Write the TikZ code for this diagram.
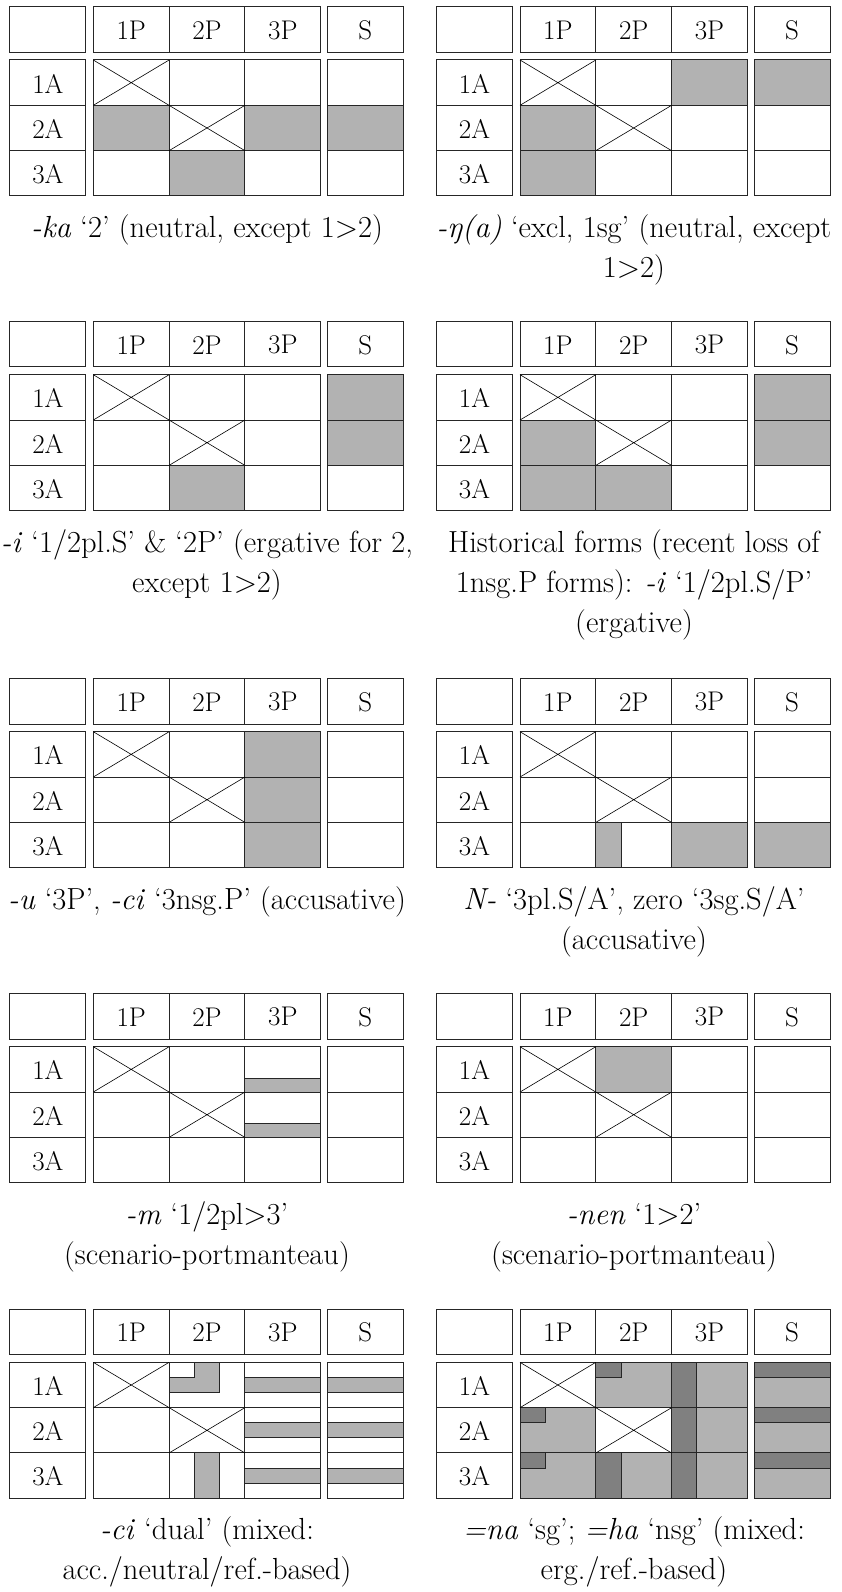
\documentclass[tikz,border=0pt]{standalone}
\usepackage{fontspec}
\tikzset{
  gl/.style={draw=black!85, line width=1pt},
  xl/.style={draw=black, line width=0.6pt},
  lt/.style={fill=black!30},
  dk/.style={fill=black!50},
  lab/.style={font=\fontsize{27pt}{33pt}\selectfont, inner sep=0pt},
  captxt/.style={font=\fontsize{30.5pt}{36pt}\selectfont, inner sep=0pt, anchor=base},
  panelsc/.style={x=75.8pt, y=-45.33pt},
}
\newcommand\drawgrid[1]{%
  \draw[gl] (-1.1,-1.176) rectangle (-0.1,-0.17);
  \draw[gl] (0,-1.176) rectangle (3,-0.17);
  \draw[gl] (1,-1.176) -- (1,-0.17) (2,-1.176) -- (2,-0.17);
  \draw[gl] (3.087,-1.176) rectangle (4.09,-0.17);
  \draw[gl] (-1.1,0) rectangle (-0.1,3) (-1.1,1) -- (-0.1,1) (-1.1,2) -- (-0.1,2);
  \draw[gl] (0,0) rectangle (3,3) (1,0) -- (1,3) (2,0) -- (2,3) (0,1) -- (3,1) (0,2) -- (3,2);
  \draw[gl] (3.087,0) rectangle (4.09,3) (3.087,1) -- (4.09,1) (3.087,2) -- (4.09,2);
  \draw[xl] (0,0) -- (1,1) (0,1) -- (1,0) (1,1) -- (2,2) (1,2) -- (2,1);
  \node[lab] (#1c1) at (0.5,-0.66) {1P};
  \node[lab] (#1c2) at (1.5,-0.66) {2P};
  \node[lab] (#1c3) at (2.5,-0.66) {3P};
  \node[lab] (#1c4) at (3.588,-0.66) {S};
  \node[lab] (#1r1) at (-0.6,0.52) {1A};
  \node[lab] (#1r2) at (-0.6,1.52) {2A};
  \node[lab] (#1r3) at (-0.6,2.52) {3A};
}
\begin{document}
\begin{tikzpicture}[x=1pt, y=-1pt]
\useasboundingbox (0,0) rectangle (842,1592);
\fill[white] (0,0) rectangle (842,1592);

% ---------- Row 1 ----------
\begin{scope}[shift={(93.3,60)}, panelsc]
  \fill[lt] (0,1) rectangle (1,2) (2,1) rectangle (3,2) (3.087,1) rectangle (4.09,2) (1,2) rectangle (2,3);
  \drawgrid{pa}
\end{scope}
\node[captxt] (capa1) at (207,237.5) {\textit{-ka} ‘2’ (neutral, except 1>2)};

\begin{scope}[shift={(520,60)}, panelsc]
  \fill[lt] (2,0) rectangle (3,1) (3.087,0) rectangle (4.09,1) (0,1) rectangle (1,3);
  \drawgrid{pb}
\end{scope}
\node[captxt] (capb1) at (634,237.5) {\textit{-ŋ(a)} ‘excl, 1sg’ (neutral, except};
\node[captxt] (capb2) at (634,277.5) {1>2)};

% ---------- Row 2 ----------
\begin{scope}[shift={(93.3,374.7)}, panelsc]
  \fill[lt] (3.087,0) rectangle (4.09,2) (1,2) rectangle (2,3);
  \drawgrid{pc}
\end{scope}
\node[captxt] (capc1) at (207,552.2) {\textit{-i} ‘1/2pl.S’ \& ‘2P’ (ergative for 2,};
\node[captxt] (capc2) at (207,592.2) {except 1>2)};

\begin{scope}[shift={(520,374.7)}, panelsc]
  \fill[lt] (3.087,0) rectangle (4.09,2) (0,1) rectangle (1,3) (1,2) rectangle (2,3);
  \drawgrid{pd}
\end{scope}
\node[captxt] (capd1) at (634,552.2) {Historical forms (recent loss of};
\node[captxt] (capd2) at (634,592.2) {1nsg.P forms): \textit{-i} ‘1/2pl.S/P’};
\node[captxt] (capd3) at (634,632.2) {(ergative)};

% ---------- Row 3 ----------
\begin{scope}[shift={(93.3,731.7)}, panelsc]
  \fill[lt] (2,0) rectangle (3,3);
  \drawgrid{pe}
\end{scope}
\node[captxt] (cape1) at (207,909.2) {\textit{-u} ‘3P’, \textit{-ci} ‘3nsg.P’ (accusative)};

\begin{scope}[shift={(520,731.7)}, panelsc]
  \fill[lt] (2,2) rectangle (3,3) (3.087,2) rectangle (4.09,3);
  \filldraw[lt, gl] (1,2) rectangle (1.333,3);
  \drawgrid{pf}
\end{scope}
\node[captxt] (capf1) at (634,909.2) {\textit{N-} ‘3pl.S/A’, zero ‘3sg.S/A’};
\node[captxt] (capf2) at (634,949.2) {(accusative)};

% ---------- Row 4 ----------
\begin{scope}[shift={(93.3,1046.7)}, panelsc]
  \filldraw[lt, gl] (2,0.7) rectangle (3,1);
  \filldraw[lt, gl] (2,1.7) rectangle (3,2);
  \drawgrid{pg}
\end{scope}
\node[captxt] (capg1) at (207,1224.2) {\textit{-m} ‘1/2pl>3’};
\node[captxt] (capg2) at (207,1264.2) {(scenario-portmanteau)};

\begin{scope}[shift={(520,1046.7)}, panelsc]
  \fill[lt] (1,0) rectangle (2,1);
  \drawgrid{ph}
\end{scope}
\node[captxt] (caph1) at (634,1224.2) {\textit{-nen} ‘1>2’};
\node[captxt] (caph2) at (634,1264.2) {(scenario-portmanteau)};

% ---------- Row 5 ----------
\begin{scope}[shift={(93.3,1362.3)}, panelsc]
  \filldraw[lt, gl] (1,0.333) -- (1.333,0.333) -- (1.333,0) -- (1.667,0) -- (1.667,0.667) -- (1,0.667) -- cycle;
  \filldraw[lt, gl] (1.333,2) rectangle (1.667,3);
  \foreach \r in {0,1,2} {
    \filldraw[lt, gl] (2,\r+0.333) rectangle (3,\r+0.667);
    \filldraw[lt, gl] (3.087,\r+0.333) rectangle (4.09,\r+0.667);
  }
  \drawgrid{pi}
\end{scope}
\node[captxt] (capi1) at (207,1539.8) {\textit{-ci} ‘dual’ (mixed:};
\node[captxt] (capi2) at (207,1579.8) {acc./neutral/ref.-based)};

\begin{scope}[shift={(520,1362.3)}, panelsc]
  \fill[lt] (1,0) rectangle (3,1) (3.087,0) rectangle (4.09,3) (0,1) rectangle (1,3) (2,1) rectangle (3,2) (1,2) rectangle (3,3);
  \filldraw[dk, gl] (1,0) rectangle (1.333,0.333);
  \filldraw[dk, gl] (0,1) rectangle (0.333,1.333);
  \filldraw[dk, gl] (0,2) rectangle (0.333,2.333);
  \filldraw[dk, gl] (2,0) rectangle (2.333,3);
  \filldraw[dk, gl] (1,2) rectangle (1.333,3);
  \foreach \r in {0,1,2} {
    \filldraw[dk, gl] (3.087,\r) rectangle (4.09,\r+0.333);
  }
  \drawgrid{pj}
\end{scope}
\node[captxt] (capj1) at (634,1539.8) {\textit{=na} ‘sg’; \textit{=ha} ‘nsg’ (mixed:};
\node[captxt] (capj2) at (634,1579.8) {erg./ref.-based)};
\end{tikzpicture}
\end{document}
